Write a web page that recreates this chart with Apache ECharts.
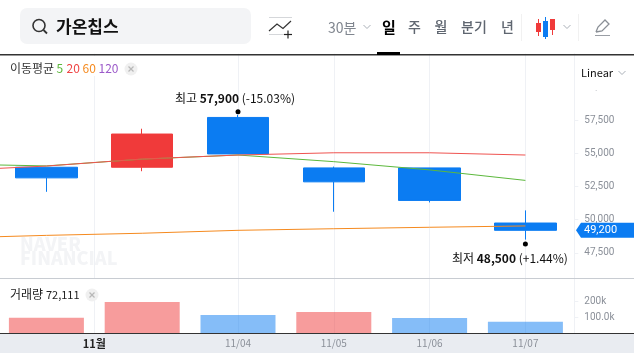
<!DOCTYPE html>
<html>
<head>
<meta charset="utf-8">
<style>
	html, body { margin: 0; padding: 0; background: #fff; }
	#chart { width: 634px; height: 353px; }
</style>
<script src="https://cdn.jsdelivr.net/npm/echarts@6/dist/echarts.min.js"></script>
</head>
<body>
<div id="chart"></div>
<script>
// 첫 칸(10/30)은 왼쪽 밖으로 잘려서 이동평균선 시작 부분만 보인다
const days = ['10/30', '10/31', '11/01', '11/04', '11/05', '11/06', '11/07'];
// [시가, 종가, 저가, 고가]
const candles = [
	'-',
	[53950, 53150, 52100, 53950],
	[53950, 56450, 53650, 56850],
	[57700, 54950, 54950, 57900],
	[53900, 52850, 50600, 54000],
	[53900, 51450, 51300, 53900],
	[49750, 49200, 48500, 50700]
];
const ma5 = [54190, 54050, 54560, 54870, 54370, 53750, 52960];
const ma20 = [53690, 54040, 54570, 54870, 55040, 55040, 54870];
const ma60 = [48620, 48820, 48980, 49200, 49320, 49430, 49530];
const volumes = ['-', 98000, 198000, 115000, 134000, 96000, 72111];
const volumeUp = [true, true, true, false, true, false, false];

// 반 칸 단위 눈금 (11월은 10/31과 11/01 사이)
const tickSlots = ['', '', '', '', '11월', '', '', '11/04', '', '11/05', '', '11/06', '', '11/07', ''];
const priceTicks = [47500, 50000, 52500, 55000, 57500, 60000];
const volumeTicks = [100000, 200000];

const RED = '#f03a3a';
const BLUE = '#0b7cf2';
const FONT = '"Noto Sans CJK KR", "Noto Sans", sans-serif';
const NUM_FONT = 'Roboto, "Noto Sans", sans-serif';
const GRID_LINE = '#eff1f5';
const AXIS_TEXT = '#8b9099';

const hasLabel = (i, v) => v !== '';

const slotAxis = (gridIndex, showLabel) => ({
	type: 'category',
	gridIndex: gridIndex,
	data: tickSlots,
	boundaryGap: false,
	position: 'bottom',
	axisLine: { show: false },
	axisTick: { show: false },
	splitLine: { show: true, interval: hasLabel, lineStyle: { color: GRID_LINE, width: 1 } },
	axisLabel: {
		show: showLabel,
		interval: hasLabel,
		margin: 5,
		color: AXIS_TEXT,
		fontFamily: FONT,
		fontSize: 10,
		formatter: v => v.indexOf('월') > 0 ? '{m|' + v + '}' : v,
		rich: { m: { color: '#222', fontWeight: 'bold', fontFamily: FONT, fontSize: 11 } }
	}
});

const dayAxis = (gridIndex, lineShow) => ({
	type: 'category',
	gridIndex: gridIndex,
	data: days,
	axisLine: { show: lineShow, onZero: false, lineStyle: { color: '#333', width: 1 } },
	axisTick: { show: false },
	axisLabel: { show: false }
});

const txt = (x, y, text, size, color, extra) => ({
	type: 'text', x: x, y: y, z: 120,
	style: {
		text: text,
		font: (extra && extra.weight || 'normal') + ' ' + size + 'px ' + (extra && extra.family || FONT),
		fill: color,
		verticalAlign: 'middle',
		align: (extra && extra.align) || 'left'
	}
});
const rect = (x, y, w, h, fill, z, r) => ({ type: 'rect', z: z === undefined ? 110 : z, shape: { x: x, y: y, width: w, height: h, r: r || 0 }, style: { fill: fill } });
const stroke = (points, color, width) => ({ type: 'polyline', z: 120, shape: { points: points }, style: { stroke: color, lineWidth: width || 1, fill: null } });
const chevron = (x, y) => stroke([[x - 3.5, y - 2], [x, y + 1.5], [x + 3.5, y - 2]], '#aab0b8', 1);
const closeBtn = (x, y) => [
	{ type: 'circle', z: 120, shape: { cx: x, cy: y, r: 6.5 }, style: { fill: '#f0f0f0' } },
	stroke([[x - 2.5, y - 2.5], [x + 2.5, y + 2.5]], '#b8b8b8', 1.2),
	stroke([[x + 2.5, y - 2.5], [x - 2.5, y + 2.5]], '#b8b8b8', 1.2)
];

const graphics = [
	// 워터마크, 하단 띠
	Object.assign(txt(20, 244, 'NAVER', 18, '#f3f4f6', { weight: '900' }), { z: -1 }),
	Object.assign(txt(20, 258, 'FINANCIAL', 18, '#f3f4f6', { weight: '900' }), { z: -1 }),
	rect(0, 333, 634, 20, '#e9ecf1', -1),
	rect(0, 333, 634, 1, '#333', 115),
	// 범례 뒤 흰 박스, 구분선
	rect(0, 56, 137, 20, '#fff'),
	rect(0, 279, 103, 21, '#fff'),
	rect(575, 56, 59, 34, '#fff'),
	rect(0, 278, 634, 1, '#c8ccd2', 115),
	rect(0, 54, 634, 1.5, '#333', 115),
	rect(377, 52, 23, 3, '#000', 116),
	// 헤더
	rect(20, 8, 231, 36, '#f3f4f6', 110, 7),
	{ type: 'circle', z: 120, shape: { cx: 39, cy: 25.5, r: 6 }, style: { stroke: '#333', lineWidth: 1.6, fill: null } },
	stroke([[43.5, 30], [47, 33.5]], '#333', 1.8),
	txt(56, 27, '가온칩스', 17, '#111', { weight: 'bold' }),
	rect(269, 17, 23, 1, '#d5d7da'),
	rect(269, 34, 15, 1, '#d5d7da'),
	stroke([[269, 31], [277, 24], [283, 28.5], [291, 21]], '#333', 1.2),
	stroke([[284, 34.5], [292, 34.5]], '#222', 1.2),
	stroke([[288, 30.5], [288, 38.5]], '#222', 1.2),
	txt(328, 28, '30분', 14, '#80868f'),
	chevron(367, 27),
	txt(389, 27, '일', 15, '#000', { weight: 'bold', align: 'center' }),
	txt(414.5, 27, '주', 14, '#5f6670', { weight: '500', align: 'center' }),
	txt(441, 27, '월', 14, '#5f6670', { weight: '500', align: 'center' }),
	txt(474, 27, '분기', 14, '#5f6670', { weight: '500', align: 'center' }),
	txt(507.5, 27, '년', 14, '#5f6670', { weight: '500', align: 'center' }),
	rect(521, 14, 1, 27, '#f1f1f1'),
	rect(578, 14, 1, 27, '#f1f1f1'),
	rect(538, 19, 1, 17, RED, 120),
	rect(536, 23, 5, 9, RED, 120),
	rect(545, 17, 1, 22, BLUE, 120),
	rect(543, 21, 5, 16, BLUE, 120),
	rect(552, 19, 1, 16, RED, 120),
	rect(550, 19, 5, 11, RED, 120),
	chevron(567, 27),
	stroke([[596, 32], [598, 27], [605, 20], [609, 24], [602, 31], [596, 32]], '#8a8f96', 1.3),
	rect(595, 35, 15, 1, '#9a9ea5', 120),
	// 이동평균 범례
	txt(10, 68, '이동평균', 12, '#333'),
	txt(56.5, 68, '5', 12, '#5cb83c'),
	txt(66.5, 68, '20', 12, '#ef4444'),
	txt(82.5, 68, '60', 12, '#f58a1f'),
	txt(98.5, 68, '120', 12, '#9b59c9'),
	...closeBtn(131, 69),
	// 거래량 범례
	txt(10, 294.5, '거래량', 12, '#222'),
	txt(46, 294.5, '72,111', 11, '#222'),
	...closeBtn(92, 295),
	txt(581, 73, 'Linear', 11, '#111'),
	chevron(622, 73)
];

const extremeLabel = (text, offset) => ({
	show: true,
	position: 'inside',
	offset: offset,
	formatter: text,
	color: '#111',
	fontFamily: FONT,
	fontSize: 12,
	rich: { b: { fontWeight: 'bold', color: '#111', fontFamily: FONT, fontSize: 12 } }
});

const option = {
	animation: false,
	backgroundColor: '#fff',
	grid: [
		{ left: -97.3, width: 670.6, top: 53.7, height: 232.4, outerBoundsMode: 'none' },
		{ left: -97.3, width: 670.6, top: 278.2, height: 54.8, outerBoundsMode: 'none' }
	],
	xAxis: [dayAxis(0, false), slotAxis(0, false), dayAxis(1, true), slotAxis(1, true)],
	yAxis: [
		{
			type: 'value',
			gridIndex: 0,
			position: 'right',
			offset: 1,
			min: 45000,
			max: 62500,
			splitLine: { show: false },
			axisLine: { show: true, lineStyle: { color: GRID_LINE } },
			axisTick: { show: true, length: 4, customValues: priceTicks, lineStyle: { color: GRID_LINE } },
			axisLabel: {
				customValues: priceTicks,
				margin: 10,
				color: AXIS_TEXT,
				fontFamily: NUM_FONT,
				fontSize: 10,
				formatter: v => v.toLocaleString('en-US')
			}
		},
		{
			type: 'value',
			gridIndex: 1,
			position: 'right',
			offset: 1,
			min: 0,
			max: 350000,
			splitLine: { show: false },
			axisLine: { show: true, lineStyle: { color: GRID_LINE } },
			axisTick: { show: true, length: 4, customValues: volumeTicks, lineStyle: { color: GRID_LINE } },
			axisLabel: {
				customValues: volumeTicks,
				margin: 10,
				color: AXIS_TEXT,
				fontFamily: NUM_FONT,
				fontSize: 10,
				formatter: v => v === 100000 ? '100.0k' : (v / 1000) + 'k'
			}
		}
	],
	series: [
		{
			type: 'candlestick',
			name: '가격',
			data: candles,
			barWidth: 62,
			itemStyle: { color: RED, color0: BLUE, borderColor: RED, borderColor0: BLUE, borderWidth: 1 },
			markPoint: {
				symbol: 'circle',
				symbolSize: 5,
				itemStyle: { color: '#000' },
				animation: false,
				data: [
					{ coord: ['11/04', 57900], symbolOffset: [0, -3], label: extremeLabel('최고 {b|57,900} (-15.03%)', [-3, -13]) },
					{ coord: ['11/07', 48500], symbolOffset: [0, 4.5], label: extremeLabel('최저 {b|48,500} (+1.44%)', [-15.5, 14]) }
				]
			}
		},
		{ type: 'line', name: '5', data: ma5, symbol: 'none', lineStyle: { color: '#5cb83c', width: 1 } },
		{ type: 'line', name: '20', data: ma20, symbol: 'none', lineStyle: { color: '#ef5350', width: 1 } },
		{ type: 'line', name: '60', data: ma60, symbol: 'none', lineStyle: { color: '#f58a1f', width: 1 } },
		{
			type: 'bar',
			name: '거래량',
			xAxisIndex: 2,
			yAxisIndex: 1,
			barWidth: 75,
			data: volumes.map((v, i) => ({
				value: v,
				itemStyle: { color: volumeUp[i] ? 'rgba(240,58,58,.5)' : 'rgba(11,124,242,.5)' }
			}))
		}
	],
	graphic: graphics
};

const myChart = echarts.init(document.getElementById('chart'));
myChart.setOption(option);

// 현재가 태그
const lastClose = candles[candles.length - 1][1];
const tagY = myChart.convertToPixel({ yAxisIndex: 0 }, lastClose);
graphics.push({
	type: 'polygon', z: 125,
	shape: { points: [[576, tagY], [581, tagY - 7.5], [634, tagY - 7.5], [634, tagY + 7.5], [581, tagY + 7.5]] },
	style: { fill: BLUE }
});
graphics.push(Object.assign(txt(584, tagY, lastClose.toLocaleString('en-US'), 11, '#fff', { family: NUM_FONT }), { z: 126 }));
myChart.setOption({ graphic: graphics });
</script>
</body>
</html>
